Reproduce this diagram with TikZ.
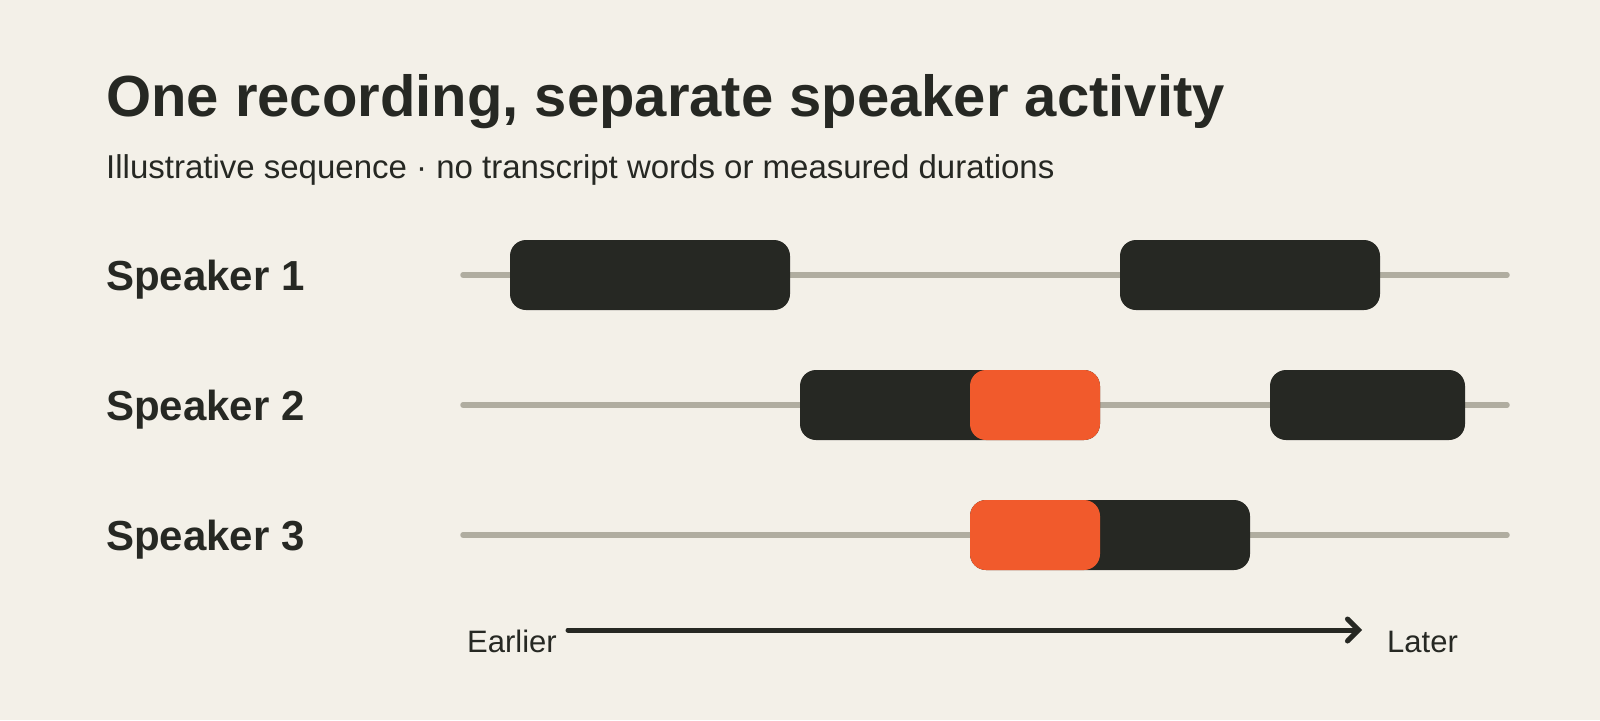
\documentclass[tikz,border=0pt]{standalone}
\usepackage{fontspec}
\setmainfont{Liberation Sans}
\usetikzlibrary{arrows.meta}

\definecolor{paper}{HTML}{F3F0E8}
\definecolor{ink}{HTML}{262823}
\definecolor{flame}{HTML}{F15A2C}
\definecolor{rail}{HTML}{B0ADA0}

\tikzset{
  rail/.style={draw=rail,line width=5.5pt,line cap=round},
  talk/.style={fill=ink,rounded corners=16pt},
  clash/.style={fill=flame,rounded corners=16pt},
  lbl/.style={anchor=base west,inner sep=0pt,text=ink}
}

\begin{document}
\begin{tikzpicture}[x=1pt,y=-1pt,line join=round]
      \useasboundingbox[fill=paper] (0,0) rectangle (1600,720);

      % Title
      \node[lbl] (title) at (106,116) {\fontsize{58}{60}\selectfont\bfseries One recording, separate speaker activity};
      \node[lbl] (sub) at (106,178) {\fontsize{33}{35}\selectfont Illustrative sequence · no transcript words or measured durations};

      % Speaker labels
      \node[lbl] (s1) at (106,290) {\fontsize{42}{44}\selectfont\bfseries Speaker 1};
      \node[lbl] (s2) at (106,420) {\fontsize{42}{44}\selectfont\bfseries Speaker 2};
      \node[lbl] (s3) at (106,550) {\fontsize{42}{44}\selectfont\bfseries Speaker 3};

      % Tracks
      \draw[rail] (463,275) -- (1507,275);
      \draw[rail] (463,405) -- (1507,405);
      \draw[rail] (463,535) -- (1507,535);

      % Speaker 1
      \fill[talk] (510,240) rectangle (790,310);
      \fill[talk] (1120,240) rectangle (1380,310);

      % Speaker 2
      \fill[talk] (800,370) rectangle (1100,440);
      \fill[clash] (970,370) rectangle (1100,440);
      \fill[talk] (1270,370) rectangle (1465,440);

      % Speaker 3
      \fill[talk] (970,500) rectangle (1250,570);
      \fill[clash] (970,500) rectangle (1100,570);

      % Time axis
      \node[lbl] (early) at (467,652) {\fontsize{31}{33}\selectfont Earlier};
      \node[lbl] (late) at (1387,652) {\fontsize{31}{33}\selectfont Later};
      \coordinate (t0) at (568,630);
      \coordinate (t1) at (1362,630);
      \draw[ink,line width=5pt,line cap=round,-{Straight Barb[length=11pt,width=22pt,line cap=round]}] (t0) -- (t1);
    \end{tikzpicture}
\end{document}
